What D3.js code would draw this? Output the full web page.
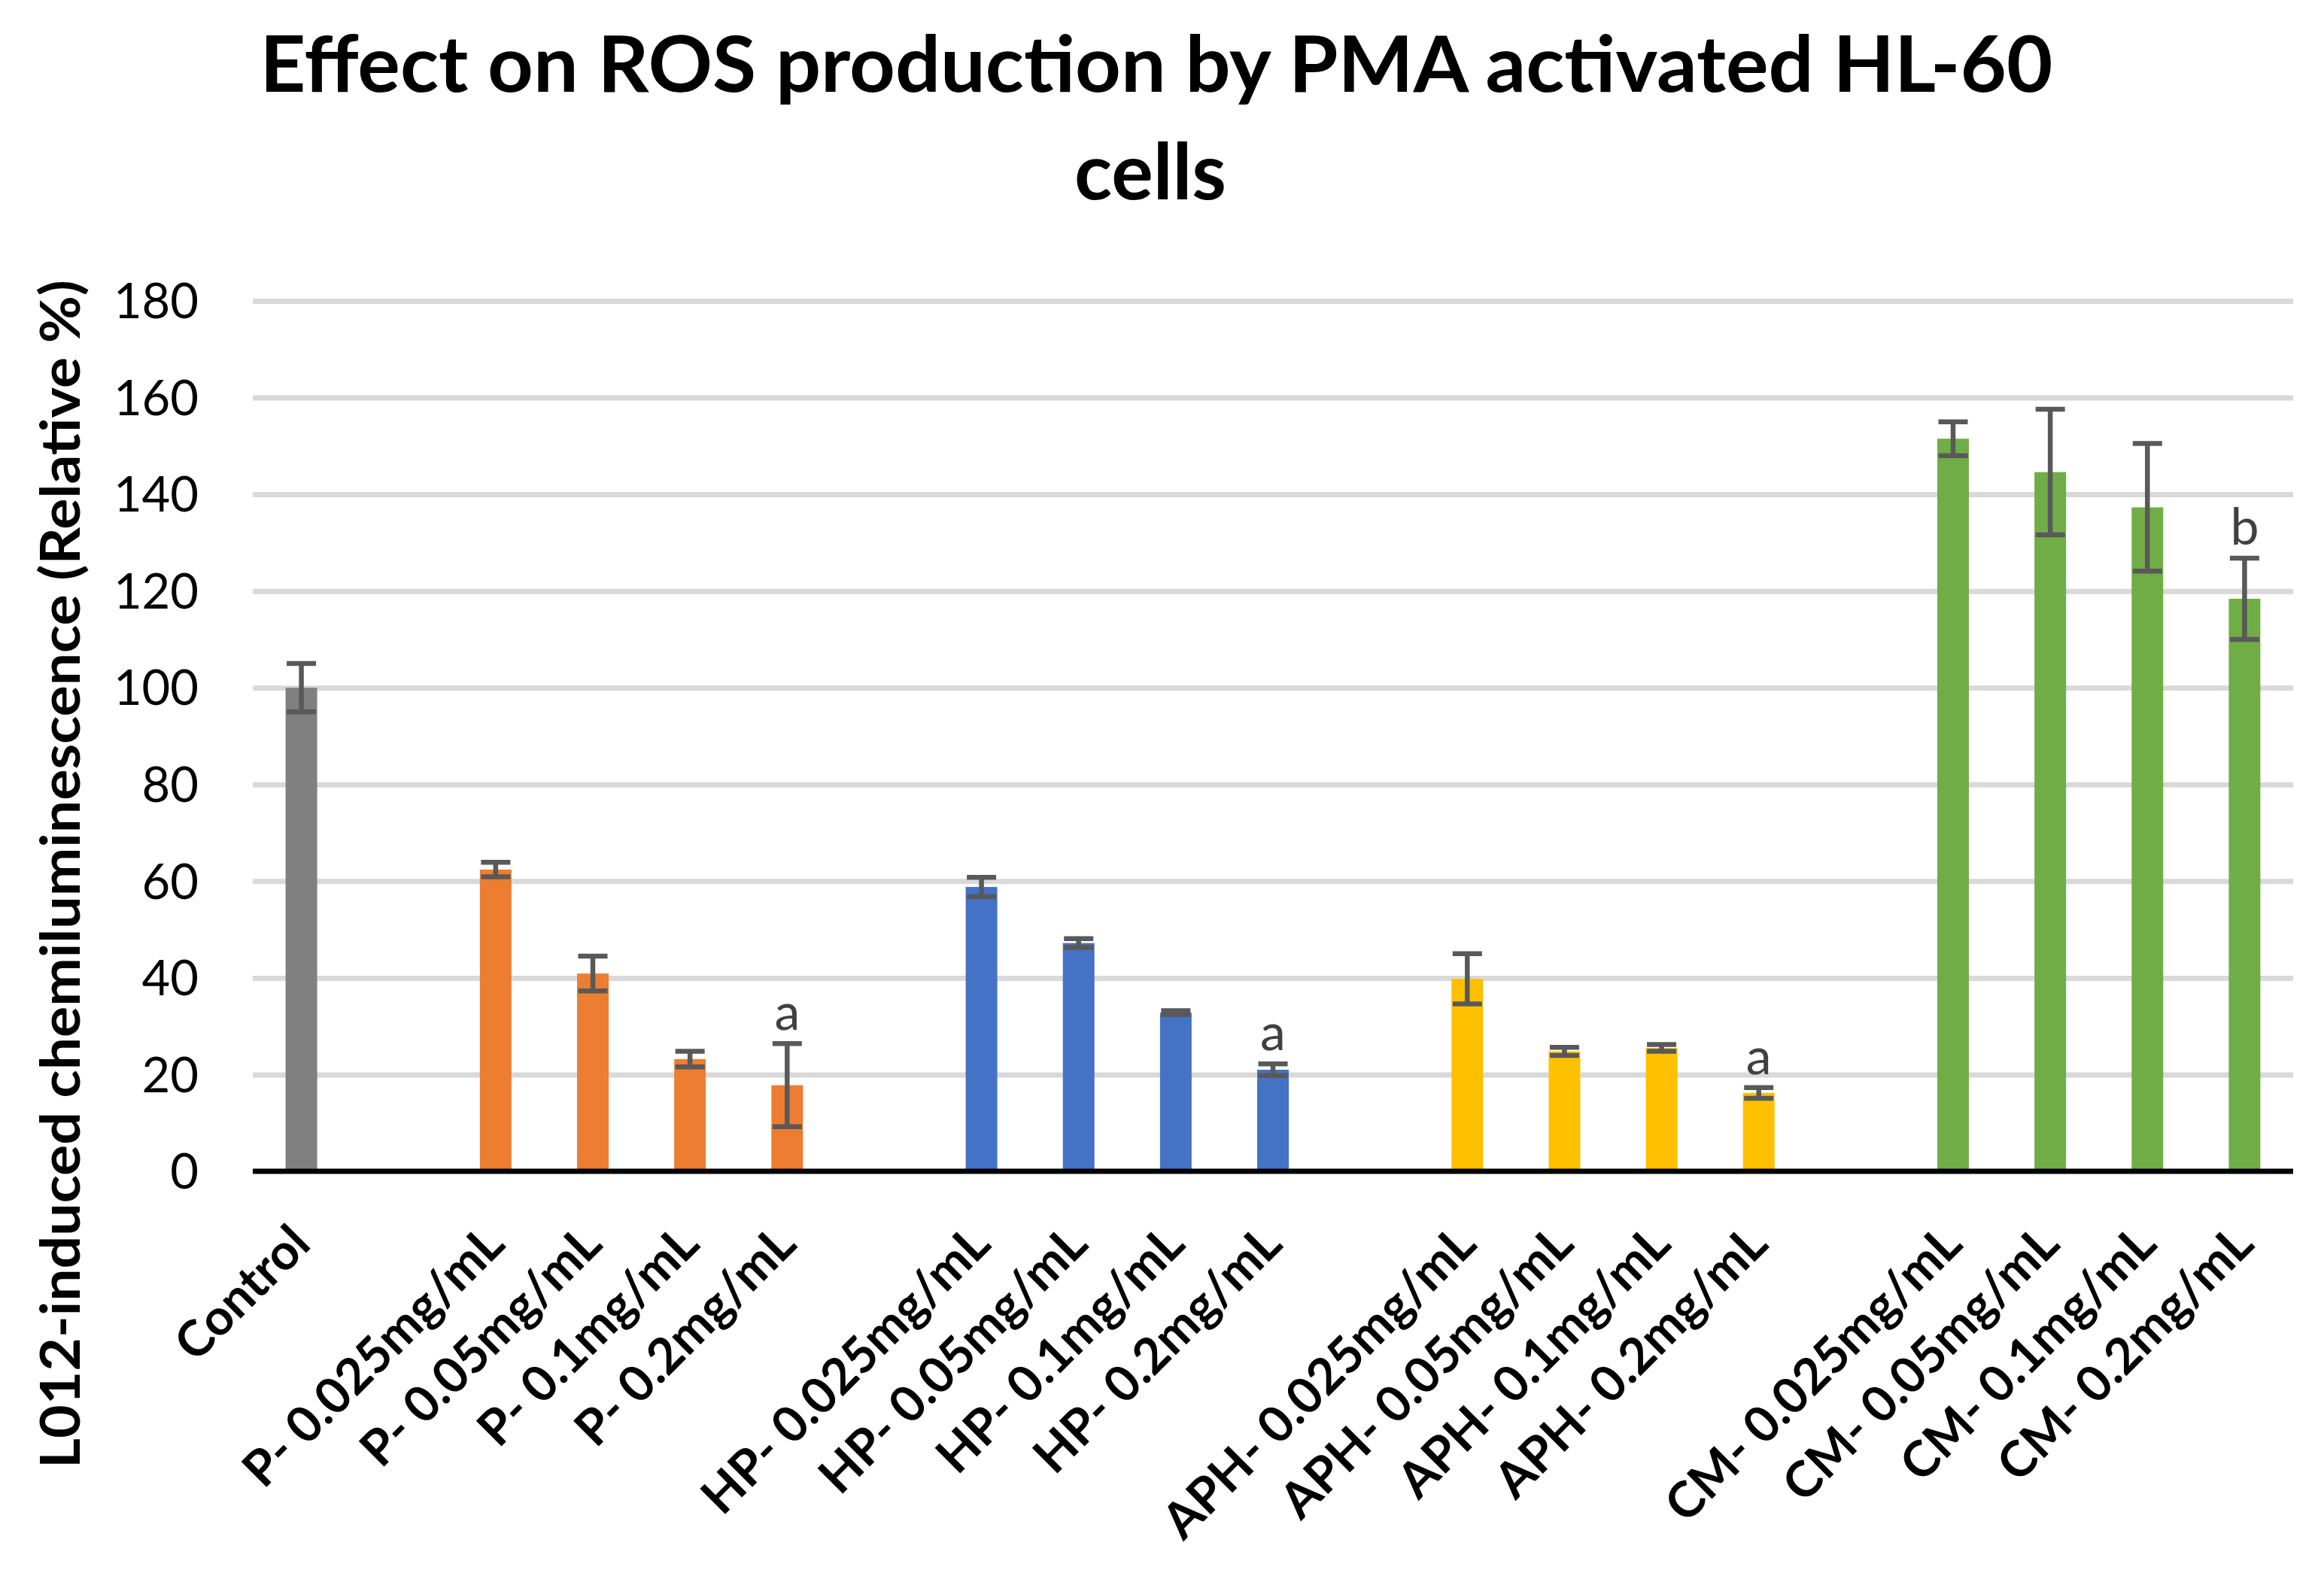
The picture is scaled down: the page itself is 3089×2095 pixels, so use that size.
<!DOCTYPE html>
<html>
<head>
<meta charset="utf-8">
<script src="https://cdn.jsdelivr.net/npm/d3@7"></script>
<style>
  html, body { margin: 0; padding: 0; background: #ffffff; }
  svg { display: block; }
</style>
</head>
<body>
<svg id="chart" width="3089" height="2095"></svg>
<script>
// ---------------- data ----------------
const categories = [
  "Control", "",
  "P- 0.025mg/mL", "P- 0.05mg/mL", "P- 0.1mg/mL", "P- 0.2mg/mL", "",
  "HP- 0.025mg/mL", "HP- 0.05mg/mL", "HP- 0.1mg/mL", "HP- 0.2mg/mL", "",
  "APH- 0.025mg/mL", "APH- 0.05mg/mL", "APH- 0.1mg/mL", "APH- 0.2mg/mL", "",
  "CM- 0.025mg/mL", "CM- 0.05mg/mL", "CM- 0.1mg/mL", "CM- 0.2mg/mL"
];
const groups = [
  "Control", "",
  "P", "P", "P", "P", "",
  "HP", "HP", "HP", "HP", "",
  "APH", "APH", "APH", "APH", "",
  "CM", "CM", "CM", "CM"
];
const values = [
  100, null,
  62.4, 40.9, 23.2, 17.8, null,
  58.8, 47.2, 32.8, 21.0, null,
  39.8, 24.8, 25.5, 16.2, null,
  151.5, 144.6, 137.3, 118.4
];
const errors = [
  5.0, null,
  1.5, 3.6, 1.6, 8.6, null,
  2.0, 0.9, 0.4, 1.2, null,
  5.2, 0.85, 0.7, 1.1, null,
  3.5, 13.0, 13.2, 8.4
];
const annotations = [
  "", "",
  "", "", "", "a", "",
  "", "", "", "a", "",
  "", "", "", "a", "",
  "", "", "", "b"
];
const groupNames = ["Control", "P", "HP", "APH", "CM"];
const groupColors = ["#808080", "#ED7D31", "#4472C4", "#FFC000", "#70AD47"];
const yTicks = [0, 20, 40, 60, 80, 100, 120, 140, 160, 180];
const titleLines = ["Effect on ROS production by PMA activated HL-60", "cells"];
const yTitle = "L012-induced chemiluminescence (Relative %)";

// ---------------- layout ----------------
const plotLeft = 336, plotRight = 3048, plotTop = 400, plotBottom = 1557;
const svg = d3.select("#chart");
const FONT = "Lato, 'Open Sans', 'DejaVu Sans', sans-serif";

const idx = categories.map((d, i) => i);
const x = d3.scaleBand()
  .domain(idx)
  .range([plotLeft, plotRight])
  .paddingInner(0.675)
  .paddingOuter(0.3375);
const y = d3.scaleLinear().domain([0, 180]).range([plotBottom, plotTop]);
const color = d3.scaleOrdinal().domain(groupNames).range(groupColors);

// gridlines + y tick labels via axis
const yAxis = d3.axisLeft(y)
  .tickValues(yTicks)
  .tickSize(-(plotRight - plotLeft))
  .tickPadding(72)
  .tickFormat(d3.format("d"));
const gy = svg.append("g")
  .attr("transform", `translate(${plotLeft},0)`)
  .call(yAxis);
gy.select(".domain").remove();
gy.selectAll(".tick line")
  .attr("stroke", d => d === 0 ? "none" : "#d9d9d9")
  .attr("stroke-width", 7);
gy.selectAll(".tick text")
  .attr("font-family", FONT)
  .attr("font-size", 65)
  .attr("fill", "#000")
  .attr("dy", "0.35em");

// bars
const data = idx.filter(i => values[i] !== null).map(i => ({
  i, cat: categories[i], group: groups[i], v: values[i], e: errors[i], ann: annotations[i]
}));

svg.append("g").selectAll("rect")
  .data(data)
  .join("rect")
  .attr("x", d => x(d.i))
  .attr("width", x.bandwidth())
  .attr("y", d => y(d.v))
  .attr("height", d => y(0) - y(d.v))
  .attr("fill", d => color(d.group));

// zero axis line
svg.append("line")
  .attr("x1", plotLeft).attr("x2", plotRight)
  .attr("y1", y(0)).attr("y2", y(0))
  .attr("stroke", "#000").attr("stroke-width", 7);

// error bars
const capHalf = 19.5;
const eg = svg.append("g").attr("stroke", "#595959").attr("stroke-width", 6.5);
data.forEach(d => {
  const cx = x(d.i) + x.bandwidth() / 2;
  const g = eg.append("g");
  g.append("line").attr("x1", cx).attr("x2", cx)
    .attr("y1", y(d.v + d.e)).attr("y2", y(d.v - d.e));
  g.append("line").attr("x1", cx - capHalf).attr("x2", cx + capHalf)
    .attr("y1", y(d.v + d.e)).attr("y2", y(d.v + d.e));
  g.append("line").attr("x1", cx - capHalf).attr("x2", cx + capHalf)
    .attr("y1", y(d.v - d.e)).attr("y2", y(d.v - d.e));
});

// annotations (significance letters)
svg.append("g").selectAll("text")
  .data(data.filter(d => d.ann))
  .join("text")
  .attr("x", d => x(d.i) + x.bandwidth() / 2)
  .attr("y", d => y(d.v + d.e) - 18)
  .attr("text-anchor", "middle")
  .attr("font-family", FONT)
  .attr("font-size", 68)
  .attr("fill", "#404040")
  .text(d => d.ann);

// x category labels (rotated)
svg.append("g").selectAll("text")
  .data(idx.filter(i => categories[i] !== ""))
  .join("text")
  .attr("transform", i => `translate(${x(i) + x.bandwidth() / 2 + 15},${plotBottom + 100}) rotate(-45)`)
  .attr("text-anchor", "end")
  .attr("font-family", FONT)
  .attr("font-weight", "bold")
  .attr("font-size", 66)
  .attr("fill", "#000")
  .text(i => categories[i]);

// title
svg.append("text")
  .attr("x", 1537).attr("y", 122)
  .attr("text-anchor", "middle")
  .attr("font-family", FONT).attr("font-weight", "bold").attr("font-size", 104)
  .attr("textLength", 2383).attr("lengthAdjust", "spacingAndGlyphs")
  .text(titleLines[0]);
svg.append("text")
  .attr("x", 1529).attr("y", 265)
  .attr("text-anchor", "middle")
  .attr("font-family", FONT).attr("font-weight", "bold").attr("font-size", 104)
  .text(titleLines[1]);

// y axis title
svg.append("text")
  .attr("transform", `translate(106,1162) rotate(-90)`)
  .attr("text-anchor", "middle")
  .attr("font-family", FONT).attr("font-weight", "bold").attr("font-size", 73)
  .attr("textLength", 1580).attr("lengthAdjust", "spacingAndGlyphs")
  .text(yTitle);
</script>
</body>
</html>
